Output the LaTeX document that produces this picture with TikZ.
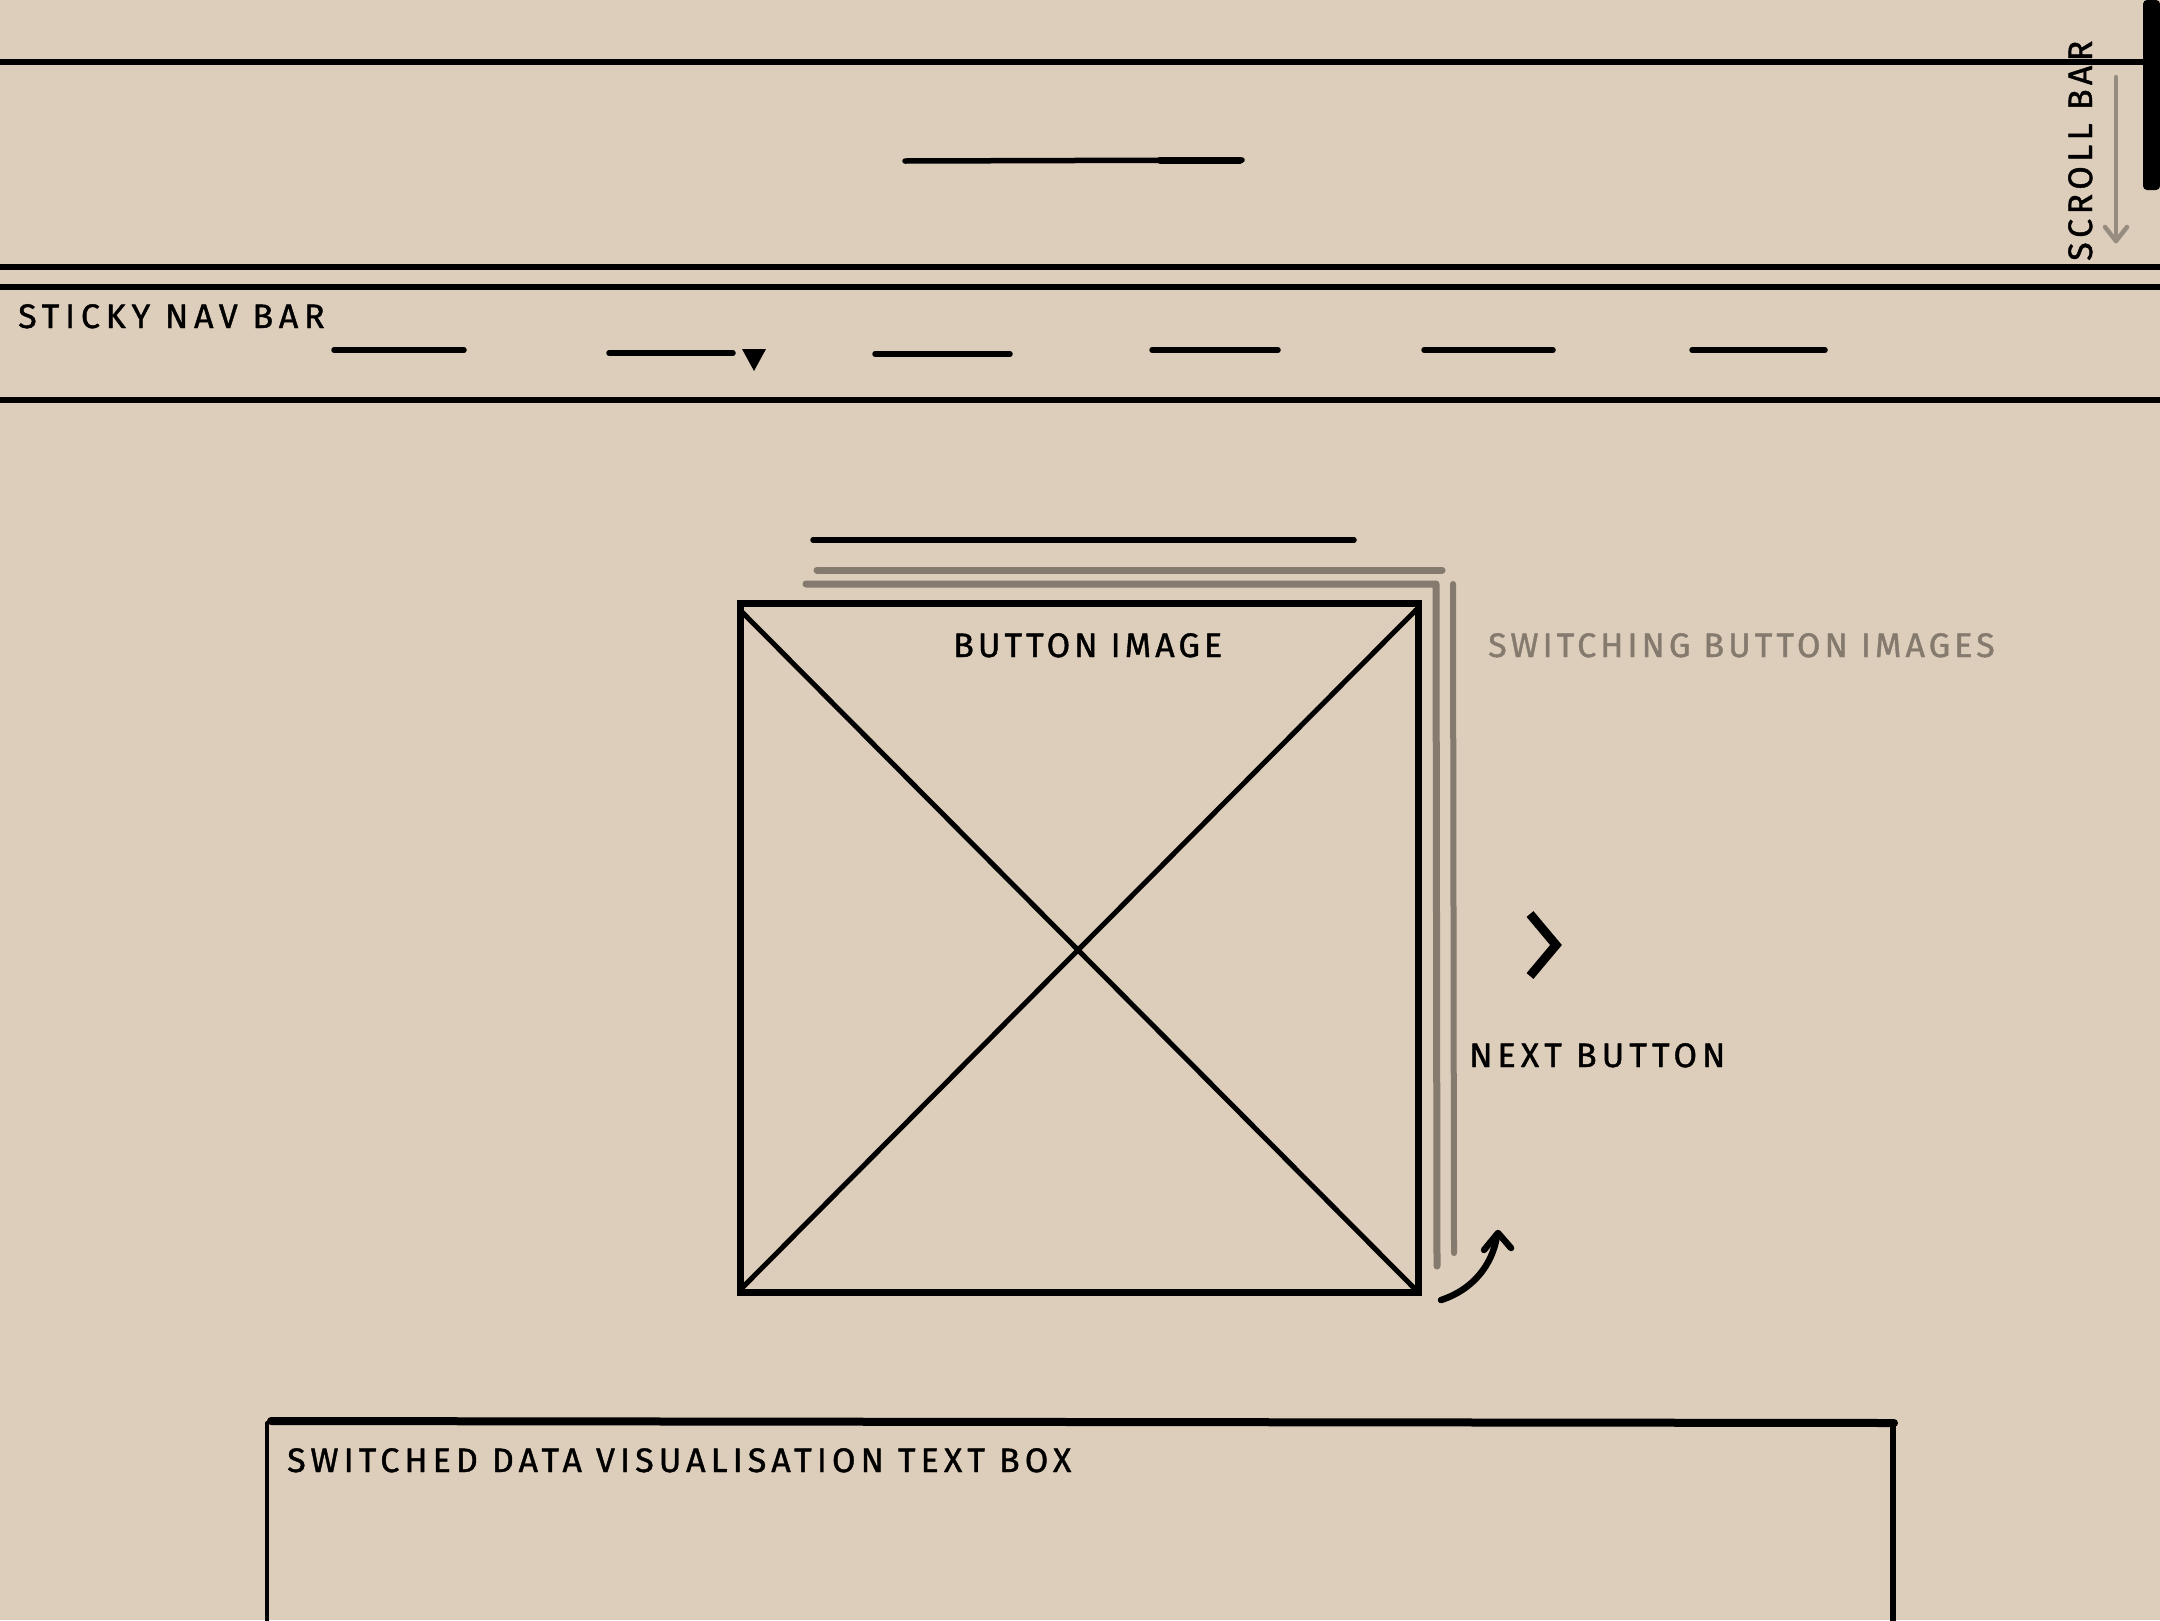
\documentclass[tikz,border=0pt]{standalone}
\usepackage{fontspec}
\setmainfont{Fira Sans}[LetterSpace=12,FakeBold=1.2]
\definecolor{bg}{HTML}{DDCDBB}
\definecolor{sk}{HTML}{857A6E}
\definecolor{skl}{HTML}{978C80}
\newcommand{\lsp}[1]{\addfontfeatures{LetterSpace=#1}}
\begin{document}
\begin{tikzpicture}[x=1pt,y=-1pt,line cap=round,line join=round,
  ink/.style={line width=5.5pt,black},
  thin ink/.style={line width=5pt,black},
  greyline/.style={line width=7pt,sk},
  lbl/.style={font=\fontsize{34}{40}\selectfont,inner sep=0pt,anchor=base west,text=black},
  greylbl/.style={lbl,text=sk}]
\fill[bg] (0,0) rectangle (2160,1620);
\useasboundingbox (0,0) rectangle (2160,1620);
% header
\draw[ink] (0,62) -- (2143,62);
\draw[ink] (905,161) -- (1242,160);
\draw[line width=7pt] (1160,160) -- (1240,160);
% scroll bar
\fill[black,rounded corners=4pt] (2143,0) -- (2143,190) -- (2160,190) -- (2160,0) -- cycle;
\draw[skl,line width=4.5pt] (2116,77) -- (2116,241);
\draw[skl,line width=4.5pt] (2105,227) -- (2116,241) -- (2127,227);
\node[lbl,rotate=90] (scroll) at (2092,261) {\lsp{13}SCROLL BAR};
% nav bar
\draw[ink] (0,267) -- (2160,267);
\draw[ink] (0,287) -- (2160,287);
\draw[ink] (0,400) -- (2160,400);
\node[lbl] (nav) at (18,328) {\lsp{17}STICKY NAV BAR};
\draw[ink] (334,350) -- (464,350);
\draw[ink] (609,353) -- (733,353);
\fill[black] (742,349) -- (766,349) -- (754,371) -- cycle;
\draw[ink] (875,354) -- (1010,354);
\draw[ink] (1152,350) -- (1278,350);
\draw[ink] (1424,350) -- (1553,350);
\draw[ink] (1692,350) -- (1825,350);
% switching images stack
\draw[ink] (813,540) -- (1354,540);
\draw[greyline] (817,570) -- (1442,570);
\draw[greyline] (806,584) -- (1436,584) -- (1437,1266);
\draw[greyline,line width=6pt] (1453,584) -- (1454,1253);
% button image
\draw[line width=7pt,black,line join=miter] (740,603) rectangle (1418,1292);
\draw[thin ink] (742,612) -- (1416,1290);
\draw[thin ink] (1416,610) -- (742,1288);
\node[lbl] (btn) at (953,657) {\lsp{12}BUTTON IMAGE};
\node[greylbl] (switch) at (1488,657) {\lsp{12}SWITCHING BUTTON IMAGES};
% next button
\draw[line width=9pt,black,line cap=butt,line join=miter] (1530,914) -- (1556,945) -- (1530,976);
\node[lbl] (next) at (1469,1067) {\lsp{15}NEXT BUTTON};
\draw[line width=6.5pt,black] (1441,1300) .. controls (1472,1290) and (1492,1266) .. (1497,1236);
\draw[line width=6.5pt,black] (1484,1250) -- (1498,1233) -- (1511,1248);
% text box
\draw[line width=8pt,black] (271,1421) -- (1894,1423);
\draw[line width=4pt,black] (267,1423) -- (267,1625);
\draw[line width=6pt,black] (1893,1423) -- (1893,1625);
\node[lbl] (textbox) at (287,1472) {\lsp{15}SWITCHED DATA VISUALISATION TEXT BOX};
\end{tikzpicture}
\end{document}
